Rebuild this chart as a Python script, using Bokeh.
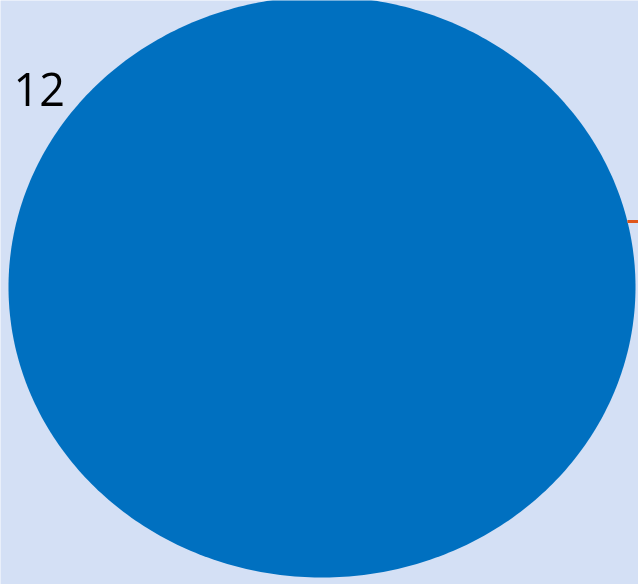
import numpy as np
from bokeh.plotting import figure
from bokeh.models import Range1d
from bokeh.core.properties import value
from bokeh.embed import file_html
from bokeh.resources import INLINE

# ---- data ----
categories = ["Series A", "Series B"]
values = [12, 0]
labels = ["12", ""]
colors = ["#0070c0", "#e0561a"]

# ---- layout / style ----
W, H = 638, 584
CX, CY = 321.5, H - 286.5
RX, RY = 313.5, 290.5
BG = "#d4e0f5"

p = figure(width=W, height=H, output_backend="svg", toolbar_location=None,
           x_range=Range1d(0, W), y_range=Range1d(0, H),
           min_border=0, min_border_left=0, min_border_right=0,
           min_border_top=0, min_border_bottom=0)
p.styles = {"position": "fixed", "top": "0px", "left": "0px"}
p.axis.visible = False
p.grid.visible = False
p.outline_line_color = None
p.background_fill_color = BG
p.border_fill_color = BG

total = float(sum(values))
start = np.pi / 2
xs, ys, fills = [], [], []
for cat, v, c in zip(categories, values, colors):
    frac = v / total
    end = start - frac * 2 * np.pi
    if frac > 0:
        t = np.linspace(start, end, 400)
        px = CX + RX * np.cos(t)
        py = CY + RY * np.sin(t)
        if frac < 1:
            px = np.concatenate([[CX], px])
            py = np.concatenate([[CY], py])
        xs.append(list(px))
        ys.append(list(py))
        fills.append(c)
    start = end

p.patches(xs=xs, ys=ys, fill_color=fills, line_color=None)

# leader line for the zero slice (label outside view)
lead_t = np.arcsin(65.5 / RY)
lx0 = CX + RX * np.cos(lead_t)
ly0 = CY + RY * np.sin(lead_t)
p.line(x=[lx0, W + 60], y=[ly0, ly0], line_color=colors[1], line_width=3)

# label of the main slice
p.text(x=[13], y=[H - 89], text=[labels[0]], text_font=value("Open Sans"),
       text_font_size="45px", text_color="black",
       text_align="left", text_baseline="middle")

open("out.html", "w").write(file_html(p, INLINE))
